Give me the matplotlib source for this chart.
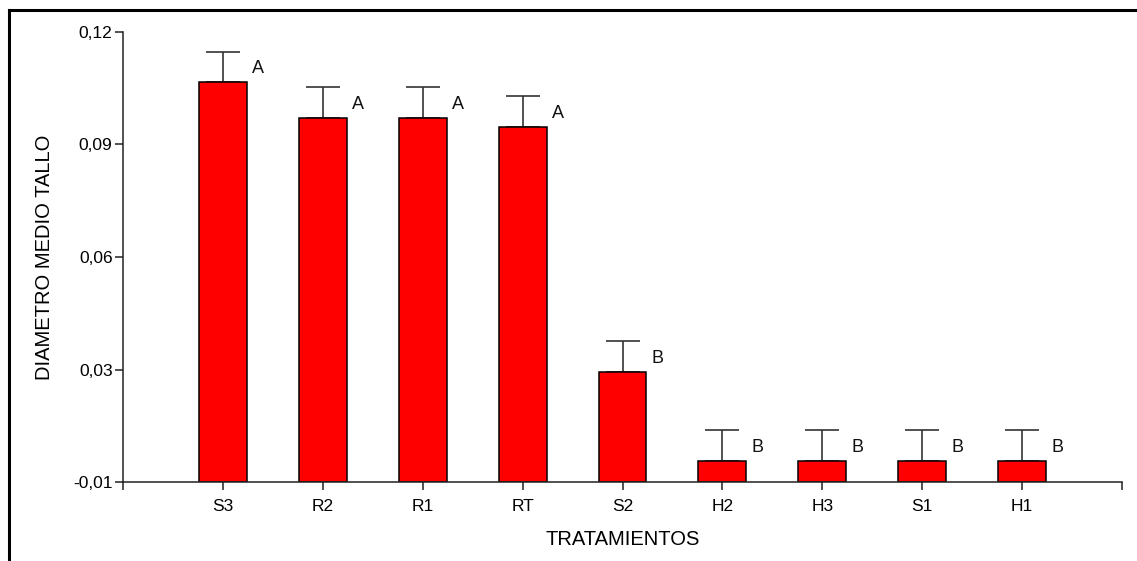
import matplotlib.pyplot as plt
from matplotlib.lines import Line2D

plt.rcParams['font.family'] = ['Liberation Sans', 'DejaVu Sans']

# data
tratamientos = ['S3', 'R2', 'R1', 'RT', 'S2', 'H2', 'H3', 'S1', 'H1']
medias = [0.1066, 0.0971, 0.0971, 0.0947, 0.0293, 0.0056, 0.0056, 0.0056, 0.0056]
error = [0.0081, 0.0081, 0.0081, 0.0081, 0.0084, 0.0082, 0.0082, 0.0082, 0.0082]
letras = ['A', 'A', 'A', 'A', 'B', 'B', 'B', 'B', 'B']
y_ticks = [0.0, 0.03, 0.06, 0.09, 0.12]
y_ticklabels = ['-0,01', '0,03', '0,06', '0,09', '0,12']

W, H = 1137, 561
fig = plt.figure(figsize=(W / 100, H / 100), dpi=100)
ax = fig.add_axes([123 / W, (H - 482) / H, (1122 - 123) / W, (482 - 32) / H])

x = list(range(len(tratamientos)))
ax.bar(x, medias, width=0.48, color='#ff0000', edgecolor='black', linewidth=1.1, zorder=2)
ax.errorbar(x, medias, yerr=[[0] * len(x), error], fmt='none', ecolor='#333333',
            elinewidth=1.2, capsize=12.5, capthick=1.2, zorder=1)

for i, (m, e, l) in enumerate(zip(medias, error, letras)):
    ax.text(i + 0.35, m + e / 2 - 0.0005, l, ha='center', va='center', fontsize=13, color='#111111')

ax.set_xlim(-1, 9)
ax.set_ylim(0, 0.12)
ax.set_xticks([-1] + x + [9])
ax.set_xticklabels([''] + tratamientos + [''], fontsize=12.5)
ax.set_yticks(y_ticks)
ax.set_yticklabels(y_ticklabels, fontsize=12.5)
ax.tick_params(axis='both', direction='out', length=5.5, width=1.1, color='#222222', pad=2)
ax.tick_params(axis='x', pad=7)

for s in ['top', 'right']:
    ax.spines[s].set_visible(False)
for s in ['left', 'bottom']:
    ax.spines[s].set_linewidth(1.1)
    ax.spines[s].set_color('#222222')

ax.set_xlabel('TRATAMIENTOS', fontsize=14.5, labelpad=11)
ax.set_ylabel('DIAMETRO MEDIO TALLO', fontsize=14.5, labelpad=14)

# outer frame (top and left edges visible in the screenshot)
fig.add_artist(Line2D([9 / W, 1], [1 - 10 / H, 1 - 10 / H], transform=fig.transFigure,
                      color='black', linewidth=2.2))
fig.add_artist(Line2D([9 / W, 9 / W], [0, 1 - 10 / H], transform=fig.transFigure,
                      color='black', linewidth=2.2))

fig.savefig('out.png', dpi=100)
